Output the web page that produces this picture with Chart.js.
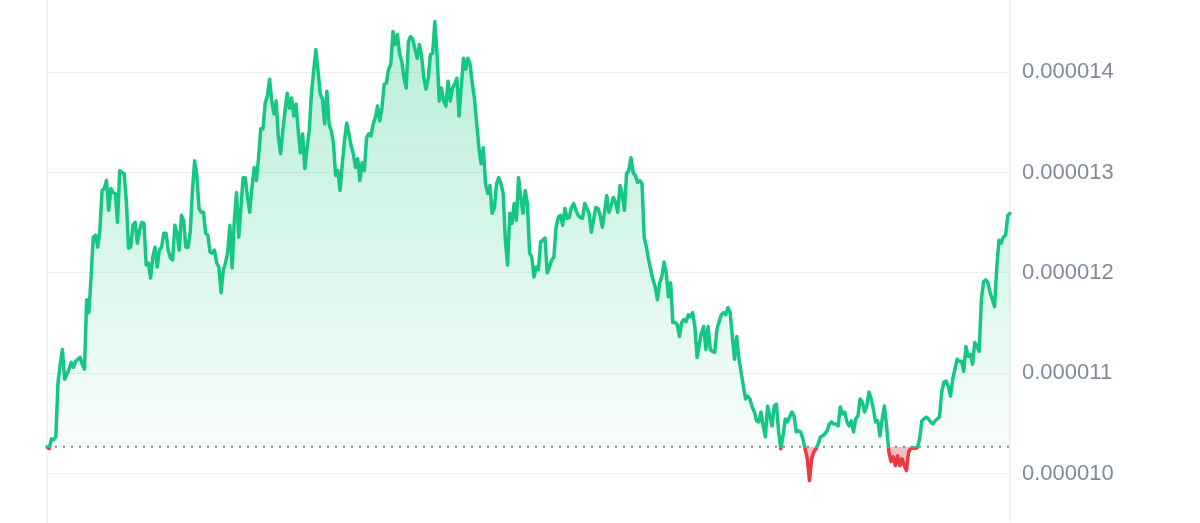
<!DOCTYPE html>
<html>
<head>
<meta charset="utf-8">
<script src="https://cdn.jsdelivr.net/npm/chart.js@4.4.1/dist/chart.umd.min.js"></script>
<style>
html,body{margin:0;padding:0;background:#fff;}
canvas{display:block;}
</style>
</head>
<body>
<canvas id="c" width="1200" height="523"></canvas>
<script>
// Price values in units of 0.000001
const prices = [
10.267,10.25,10.347,10.337,10.366,10.911,11.09,11.238,10.94,10.99,
11.04,11.109,11.059,11.119,11.139,11.158,11.09,11.04,11.733,11.604,
11.96,12.356,12.376,12.257,12.426,12.822,12.842,12.921,12.624,12.842,
12.802,12.792,12.505,13.02,13.0,12.99,12.723,12.248,12.257,12.475,
12.505,12.297,12.426,12.505,12.495,12.079,12.099,11.95,12.158,12.257,
12.059,12.228,12.257,12.396,12.396,12.228,12.149,12.129,12.475,12.396,
12.228,12.574,12.525,12.257,12.257,12.406,12.822,13.119,12.97,12.644,
12.604,12.604,12.396,12.376,12.208,12.198,
12.228,12.099,12.059,11.802,12.03,12.099,12.208,12.475,12.049,
12.525,12.802,12.356,12.653,12.95,12.95,12.752,12.604,12.852,13.05,
12.921,13.149,13.436,13.436,13.693,13.762,13.931,13.713,13.584,
13.713,13.347,13.188,13.416,13.614,13.792,13.644,13.743,13.564,
13.683,13.416,13.198,13.386,13.04,13.248,13.416,13.792,14.01,
14.228,14.01,13.782,13.733,13.485,13.812,13.485,13.416,13.287,12.97,
13.02,12.822,13.089,13.317,13.495,13.386,13.267,13.188,13.05,
13.139,12.921,13.099,13.02,13.347,13.386,
13.366,13.485,13.545,13.663,13.515,13.644,13.881,13.891,14.03,
14.079,14.406,14.277,14.376,14.188,14.109,13.941,13.842,14.307,14.356,
14.327,14.228,14.139,14.277,14.158,13.941,13.832,
13.941,14.178,14.188,14.505,14.178,13.713,13.842,13.713,13.663,13.911,
13.713,13.842,13.881,13.941,13.564,13.861,14.139,14.03,14.139,
14.079,13.891,13.733,13.485,13.247,13.089,13.247,
12.891,12.792,12.871,12.594,12.644,12.891,12.95,12.891,12.792,12.327,
12.079,12.594,12.495,12.693,12.525,12.95,12.752,12.594,12.822,
12.693,12.198,12.158,11.96,12.059,12.03,
12.307,12.327,12.347,12.0,12.059,12.129,12.158,12.455,12.554,12.574,
12.475,12.644,12.545,12.554,12.653,12.693,12.624,12.574,12.554,12.545,
12.693,12.644,12.594,12.406,12.525,12.653,12.644,12.574,12.455,12.604,
12.772,12.604,12.673,12.752,12.703,12.604,12.871,12.792,12.624,12.99,
13.02,13.149,13.0,12.97,12.901,12.921,12.891,12.356,12.257,12.129,
12.03,11.931,11.861,11.733,11.901,11.96,12.109,12.0,11.762,11.901,
11.505,11.505,11.485,11.366,11.505,11.535,11.515,11.584,11.564,
11.604,11.465,11.158,11.287,11.406,11.465,11.238,11.465,11.238,11.218,
11.208,11.436,11.515,11.584,11.604,11.584,11.653,11.604,11.366,11.139,
11.366,11.139,11.01,10.871,10.743,10.772,10.743,10.663,10.614,10.525,
10.515,10.614,10.475,10.366,10.673,10.574,10.475,10.673,10.693,10.416,
10.248,10.376,10.545,10.515,10.564,10.614,10.574,10.416,10.426,10.416,
10.347,10.248,10.149,9.931,10.149,10.218,10.248,10.297,10.366,10.376,
10.396,10.426,10.495,10.515,10.495,10.495,10.475,10.663,10.594,10.614,
10.515,10.475,10.525,10.416,10.545,10.574,10.743,
10.713,10.614,10.673,10.812,10.743,10.644,10.515,10.525,10.376,10.545,
10.673,10.475,10.218,10.119,10.168,10.079,10.178,10.079,10.149,10.079,
10.03,10.218,10.25,10.258,10.252,10.262,10.347,10.525,10.545,
10.564,10.545,10.515,10.495,10.525,10.545,10.564,10.812,10.911,10.921,
10.871,10.772,10.941,11.04,11.139,11.119,11.119,11.02,11.267,
11.168,11.188,11.089,11.307,11.267,11.218,11.733,11.911,11.931,11.901,
11.802,11.733,11.663,12.059,12.327,12.297,12.356,12.376,12.574,12.594
];
const baseline = 10.267;
const tickValues = [10, 11, 12, 13, 14];
const tickLabels = ['0.000010', '0.000011', '0.000012', '0.000013', '0.000014'];
const labels = prices.map((_, i) => i);

const GREEN = '#16c784';
const RED = '#ea3943';

const framePlugin = {
  id: 'frame',
  beforeDatasetsDraw(chart) {
    const {ctx, chartArea: a, scales: {y}} = chart;
    ctx.save();
    ctx.strokeStyle = '#eff2f5';
    ctx.lineWidth = 2;
    ctx.beginPath();
    ctx.moveTo(a.left, 0);
    ctx.lineTo(a.left, chart.height);
    ctx.stroke();
    const by = y.getPixelForValue(baseline);
    ctx.strokeStyle = '#808a9d';
    ctx.lineWidth = 2;
    ctx.setLineDash([2, 6]);
    ctx.beginPath();
    ctx.moveTo(a.left, by);
    ctx.lineTo(a.right, by);
    ctx.stroke();
    ctx.restore();
  }
};

const chart = new Chart(document.getElementById('c'), {
  type: 'line',
  data: {
    labels: labels,
    datasets: [{
      data: prices,
      borderColor: GREEN,
      borderWidth: 3.5,
      pointRadius: 0,
      tension: 0,
      borderJoinStyle: 'round',
      borderCapStyle: 'round',
      fill: {target: {value: baseline}, above: 'rgba(22,199,132,0.2)', below: 'rgba(234,57,67,0.3)'}
    }]
  },
  options: {
    responsive: false,
    animation: false,
    layout: {padding: {left: 47, top: 0, right: 0, bottom: 0}},
    plugins: {legend: {display: false}, tooltip: {enabled: false}},
    scales: {
      x: {type: 'category', display: false},
      y: {
        position: 'right',
        min: 9.525,
        max: 14.703,
        grid: {color: '#eceef1', lineWidth: 1, drawTicks: false},
        border: {display: true, color: '#eff2f5', width: 2},
        afterBuildTicks: s => { s.ticks = tickValues.map(v => ({value: v})); },
        afterFit: s => { s.width = 190; s.paddingTop = 0; s.paddingBottom = 0; },
        ticks: {
          padding: 12,
          color: '#808a9d',
          font: {family: '"Liberation Sans", Arial, sans-serif', size: 22},
          callback: (v, i) => tickLabels[i]
        }
      }
    }
  },
  plugins: [framePlugin]
});

(function applyGradients() {
  const a = chart.chartArea;
  const y = chart.scales.y;
  const by = y.getPixelForValue(baseline);
  const c = chart.ctx;
  const f = (by - a.top) / (a.bottom - a.top);
  const stroke = c.createLinearGradient(0, a.top, 0, a.bottom);
  stroke.addColorStop(0, GREEN);
  stroke.addColorStop(f, GREEN);
  stroke.addColorStop(f, RED);
  stroke.addColorStop(1, RED);
  const above = c.createLinearGradient(0, a.top, 0, by);
  above.addColorStop(0, 'rgba(22,199,132,0.32)');
  above.addColorStop(1, 'rgba(22,199,132,0.03)');
  const below = c.createLinearGradient(0, by, 0, a.bottom);
  below.addColorStop(0, 'rgba(234,57,67,0.32)');
  below.addColorStop(1, 'rgba(234,57,67,0.32)');
  const ds = chart.data.datasets[0];
  ds.borderColor = stroke;
  ds.fill = {target: {value: baseline}, above: above, below: below};
  chart.update('none');
})();
</script>
</body>
</html>
